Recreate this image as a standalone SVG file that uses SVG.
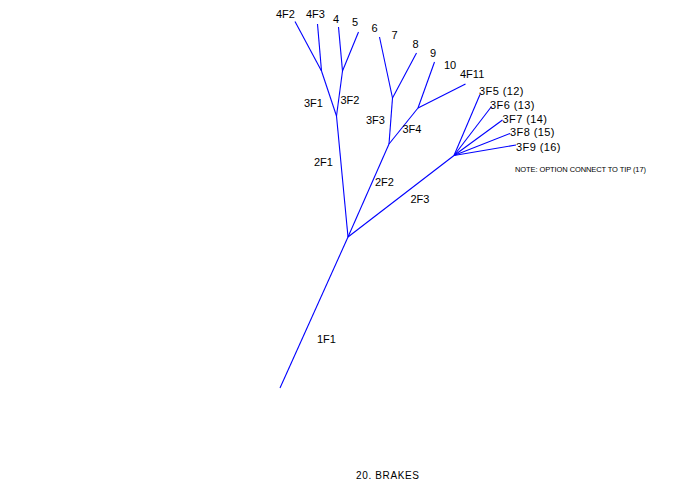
<svg xmlns="http://www.w3.org/2000/svg" width="694" height="494" viewBox="0 0 694 494">
<style>
.c line{stroke:#0000ff;stroke-width:1.1;fill:none}
text{font-family:"Liberation Sans",Arial,sans-serif;font-size:11px;fill:#000}
.n{font-size:7.5px}
.t{font-size:10px}
</style>
<rect width="694" height="494" fill="#fff"/>
<g id="connectors" class="c">
<line x1="280" y1="388" x2="348" y2="237"/>
<line x1="348" y1="237" x2="336.5" y2="116"/>
<line x1="336.5" y1="116" x2="321.5" y2="71"/>
<line x1="321.5" y1="71" x2="295" y2="21.5"/>
<line x1="321.5" y1="71" x2="317.5" y2="24"/>
<line x1="336.5" y1="116" x2="342.5" y2="71"/>
<line x1="342.5" y1="71" x2="338.5" y2="27"/>
<line x1="342.5" y1="71" x2="358.5" y2="32"/>
<line x1="348" y1="237" x2="389" y2="144"/>
<line x1="389" y1="144" x2="392.5" y2="98"/>
<line x1="392.5" y1="98" x2="379.5" y2="37"/>
<line x1="392.5" y1="98" x2="416.5" y2="53"/>
<line x1="389" y1="144" x2="418" y2="108"/>
<line x1="418" y1="108" x2="434.5" y2="62"/>
<line x1="418" y1="108" x2="465.5" y2="84"/>
<line x1="348" y1="237" x2="454" y2="155.5"/>
<line x1="454" y1="155.5" x2="480" y2="94.5"/>
<line x1="454" y1="155.5" x2="491.5" y2="106.5"/>
<line x1="454" y1="155.5" x2="502.5" y2="120"/>
<line x1="454" y1="155.5" x2="510" y2="133.5"/>
<line x1="454" y1="155.5" x2="516" y2="145"/>
</g>
<g id="n1F1"><text x="317" y="343">1F1</text></g>
<g id="n2F1"><text x="314" y="166">2F1</text></g>
<g id="n2F2"><text x="375" y="186">2F2</text></g>
<g id="n2F3"><text x="410.5" y="203">2F3</text></g>
<g id="n3F1"><text x="304" y="106.5">3F1</text></g>
<g id="n3F2"><text x="340.5" y="104">3F2</text></g>
<g id="n3F3"><text x="366" y="124">3F3</text></g>
<g id="n3F4"><text x="402.5" y="133">3F4</text></g>
<g id="n4F2"><text x="276" y="18">4F2</text></g>
<g id="n4F3"><text x="306" y="18">4F3</text></g>
<g id="n4"><text x="333" y="22.5">4</text></g>
<g id="n5"><text x="352" y="26">5</text></g>
<g id="n6"><text x="371.5" y="32">6</text></g>
<g id="n7"><text x="391.5" y="39">7</text></g>
<g id="n8"><text x="412.5" y="48">8</text></g>
<g id="n9"><text x="430" y="57">9</text></g>
<g id="n10"><text x="444" y="69">10</text></g>
<g id="n4F11"><text x="460" y="78">4F11</text></g>
<g id="n3F5"><text x="479" y="95" textLength="44.5">3F5 (12)</text></g>
<g id="n3F6"><text x="490" y="109" textLength="44.5">3F6 (13)</text></g>
<g id="n3F7"><text x="502.5" y="123" textLength="44.5">3F7 (14)</text></g>
<g id="n3F8"><text x="510" y="136" textLength="44.5">3F8 (15)</text></g>
<g id="n3F9"><text x="516" y="150.5" textLength="44.5">3F9 (16)</text></g>
<g id="note"><text class="n" x="515" y="171.5" textLength="131">NOTE: OPTION CONNECT TO TIP (17)</text></g>
<g id="title"><text class="t" x="356" y="479" textLength="63">20. BRAKES</text></g>
</svg>
